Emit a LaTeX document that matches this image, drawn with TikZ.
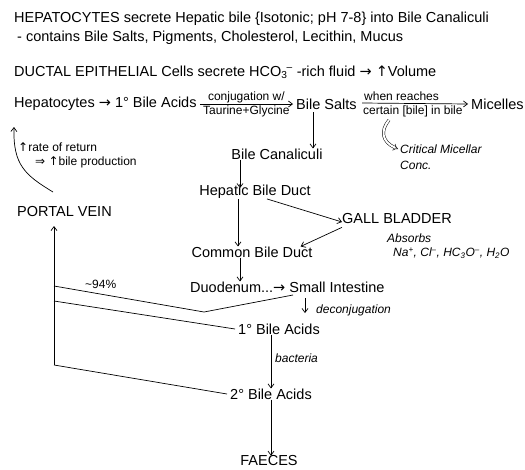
\documentclass[tikz,border=0pt]{standalone}
\usepackage{fontspec}
\setmainfont{Liberation Sans}
\newfontfamily\symf{DejaVu Sans}
\usetikzlibrary{arrows.meta}
\begin{document}
\begin{tikzpicture}[x=1pt,y=-1pt,
  txt/.style={inner sep=0pt, font=\fontsize{14.5}{16}\selectfont},
  sm/.style={inner sep=0pt, font=\fontsize{12}{14}\selectfont},
  it/.style={inner sep=0pt, font=\fontsize{12}{14}\selectfont\itshape},
  arr/.style={-{Straight Barb[length=4pt,width=6pt]}, line width=0.7pt},
  ln/.style={line width=0.7pt}]
\useasboundingbox (0,0) rectangle (525,469);

% header text
\node[txt,anchor=west] (l1) at (14,19) {HEPATOCYTES secrete Hepatic bile \{Isotonic; pH 7-8\} into Bile Canaliculi};
\node[txt,anchor=west] (l2) at (17,38) {- contains Bile Salts, Pigments, Cholesterol, Lecithin, Mucus};
\node[txt,anchor=west] (l3) at (14,72) {DUCTAL EPITHELIAL Cells secrete HCO\textsubscript{3}\kern-1pt\textsuperscript{--} -rich fluid {\symf →} {\symf ↑}Volume};

% main row
\node[txt,anchor=west] (hep) at (14,104) {Hepatocytes {\symf →} 1° Bile Acids};
\node[txt,anchor=west] (bs) at (296,104) {Bile Salts};
\node[txt,anchor=west] (mic) at (471,104) {Micelles};
\draw[arr] ([xshift=3pt]hep.east) -- ([xshift=-3pt]bs.west)
  node[midway, above=1pt, sm] {conjugation w/}
  node[midway, below=1pt, sm] {Taurine+Glycine};
\coordinate (ws) at (362,103);
\draw[arr] (ws) -- ([xshift=-3pt]mic.west);
\node[sm,anchor=south west] (wr) at (364,101) {when reaches};
\node[sm,anchor=north west] (cb) at (363,106) {certain [bile] in bile};

% critical micellar
\coordinate (cm0) at (389,120);
\node[it,anchor=west] (cm) at (400,149) {Critical Micellar};
\node[it,anchor=west] (conc) at (400,165) {Conc.};
\draw[double, double distance=2pt, line width=0.5pt, -{Implies}] (cm0) .. controls (380,131) and (382,142) .. ([xshift=-2pt]cm.west);

% central chain
\node[txt] (canal) at (277,154) {Bile Canaliculi};
\node[txt] (hbd) at (255,192) {Hepatic Bile Duct};
\node[txt,anchor=west] (gb) at (342,219) {GALL BLADDER};
\node[txt] (cbd) at (252,252) {Common Bile Duct};
\node[it,anchor=west] (abs) at (387,238) {Absorbs};
\node[it,anchor=west] (ions) at (393,253) {Na\textsuperscript{+}, Cl\textsuperscript{--}, HC\textsubscript{3}O\textsuperscript{--}, H\textsubscript{2}O};
\node[txt,anchor=west] (duo) at (190,287) {Duodenum...{\symf →} Small Intestine};
\node[it,anchor=west] (decon) at (316,310) {deconjugation};
\node[txt] (ba1) at (279,329) {1° Bile Acids};
\node[it,anchor=west] (bact) at (275,358) {bacteria};
\node[txt] (ba2) at (271,394) {2° Bile Acids};
\node[txt] (fae) at (269,461) {FAECES};

\coordinate (bsd) at (313,112);
\draw[arr] (bsd) -- (bsd |- canal.north);
\draw[arr] ([xshift=-37pt]canal.south) -- ([xshift=-37pt, yshift=-3pt]canal.south |- hbd.north);
\draw[arr] ([xshift=-17pt]hbd.south) -- ([xshift=-17pt]hbd.south |- cbd.north);
\draw[arr] ([xshift=12pt]hbd.south) -- ([yshift=-3pt]gb.west);
\draw[arr] ([yshift=-3pt]gb.south west) -- ([xshift=-12pt]cbd.north east);
\draw[arr] ([xshift=-12pt]cbd.south) -- ([xshift=-12pt]cbd.south |- duo.north);
\coordinate (dc0) at (305,298);
\coordinate (dc1) at (305,313);
\draw[arr] (dc0) -- (dc1);
\draw[arr] ([xshift=-8pt]ba1.south) -- ([xshift=-8pt]ba1.south |- ba2.north);
\draw[arr] (ba2.south) -- (ba2.south |- fae.north);

% portal vein return
\node[txt,anchor=west] (pv) at (17,212) {PORTAL VEIN};
\node[sm,anchor=west] (rate) at (18,147) {{\symf ↑}rate of return};
\node[sm,anchor=west] (prod) at (35,162) {{\symf ⇒} {\symf ↑}bile production};
\node[sm,anchor=west] (pct) at (85,284) {\textasciitilde94\%};
\coordinate (pvb) at (54,365);
\coordinate (pvtop) at (54,226);
\draw[arr] (pvb) -- (pvtop);
\coordinate (j1) at (54,286);
\coordinate (v1) at (204,312);
\coordinate (si) at (293,295);
\coordinate (j2) at (54,301);
\draw[ln] (j1) -- (v1) -- (si);
\draw[ln] (j2) -- ([xshift=-3pt]ba1.west);
\draw[ln] (pvb) -- ([xshift=-3pt]ba2.west);
\coordinate (cv0) at (53,192);
\coordinate (cv1) at (14,127);
\draw[arr] (cv0) .. controls (25,175) and (13,165) .. (cv1);
\end{tikzpicture}
\end{document}
